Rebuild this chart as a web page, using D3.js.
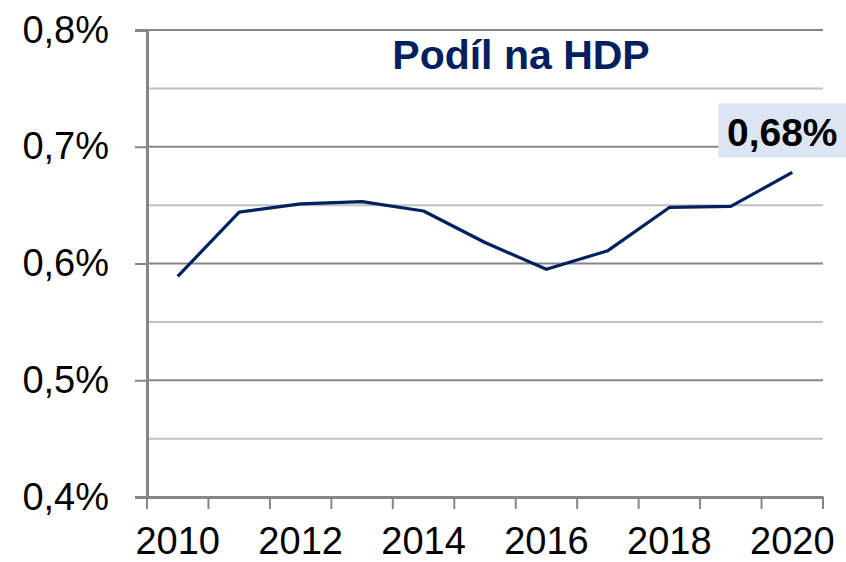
<!DOCTYPE html>
<html>
<head>
<meta charset="utf-8">
<script src="https://cdn.jsdelivr.net/npm/d3@7"></script>
<style>
  body { margin: 0; background: #fff; }
  svg { display: block; font-family: "Liberation Sans", Arial, sans-serif; }
</style>
</head>
<body>
<div class="chart"></div>
<script>
// data
const years = [2010, 2011, 2012, 2013, 2014, 2015, 2016, 2017, 2018, 2019, 2020]
const shares = [0.589, 0.644, 0.651, 0.653, 0.645, 0.618, 0.595, 0.611, 0.648, 0.649, 0.678]
const majorTicks = [0.4, 0.5, 0.6, 0.7, 0.8]
const minorTicks = [0.45, 0.55, 0.65, 0.75]
const labelYears = [2010, 2012, 2014, 2016, 2018, 2020]
const title = 'Podíl na HDP'

const width = 846
const height = 562
const plotLeft = 147, plotRight = 823, plotTop = 30, plotBottom = 497

const cz = d3.formatLocale({ decimal: ',', thousands: ' ', grouping: [3], currency: ['', ' Kč'] })
const fmtAxis = v => cz.format('.1f')(v) + '%'
const fmtLabel = v => cz.format('.2f')(v) + '%'

const svg = d3.select('.chart')
    .append('svg')
    .attr('width', width)
    .attr('height', height)

const x = d3.scaleBand().domain(years).range([plotLeft, plotRight]).padding(0)
const y = d3.scaleLinear().domain([0.4, 0.8]).range([plotBottom, plotTop])

// minor gridlines
svg.append('g')
    .selectAll('line')
    .data(minorTicks)
    .enter()
    .append('line')
    .attr('x1', plotLeft).attr('x2', plotRight)
    .attr('y1', d => y(d)).attr('y2', d => y(d))
    .attr('stroke', '#c0c0c0')
    .attr('stroke-width', 2)

// major gridlines
svg.append('g')
    .selectAll('line')
    .data(majorTicks.filter(d => d > 0.4))
    .enter()
    .append('line')
    .attr('x1', plotLeft).attr('x2', plotRight)
    .attr('y1', d => y(d)).attr('y2', d => y(d))
    .attr('stroke', '#868686')
    .attr('stroke-width', 2)

// y axis
const yAxis = d3.axisLeft(y)
    .tickValues(majorTicks)
    .tickSize(12)
    .tickPadding(26)
    .tickFormat(fmtAxis)
const gy = svg.append('g')
    .attr('transform', `translate(${plotLeft}, 0)`)
    .call(yAxis)
gy.select('.domain').attr('stroke', '#868686').attr('stroke-width', 3)
gy.selectAll('.tick line').attr('stroke', '#868686').attr('stroke-width', 2)
gy.selectAll('text')
    .attr('fill', '#000')
    .style('font-size', '38px')
    .style('font-family', '"Liberation Sans", Arial, sans-serif')

// x axis: labels at every other category, ticks between categories
const xAxis = d3.axisBottom(x)
    .tickValues(labelYears)
    .tickSize(0)
    .tickPadding(30)
const gx = svg.append('g')
    .attr('transform', `translate(0, ${plotBottom})`)
    .call(xAxis)
gx.select('.domain').attr('stroke', '#868686').attr('stroke-width', 3)
gx.selectAll('text')
    .attr('fill', '#000')
    .style('font-size', '38px')
    .style('font-family', '"Liberation Sans", Arial, sans-serif')

const edges = years.map(d => x(d)).concat([x(years[years.length - 1]) + x.bandwidth()])
gx.append('g')
    .selectAll('line')
    .data(edges)
    .enter()
    .append('line')
    .attr('x1', d => d).attr('x2', d => d)
    .attr('y1', 0).attr('y2', 12)
    .attr('stroke', '#868686')
    .attr('stroke-width', 2)

// line
const line = d3.line()
    .x((d, i) => x(years[i]) + x.bandwidth() / 2)
    .y(d => y(d))

svg.append('path')
    .datum(shares)
    .attr('d', line)
    .attr('fill', 'none')
    .attr('stroke', '#002060')
    .attr('stroke-width', 3.2)
    .attr('stroke-linejoin', 'round')

// title
svg.append('text')
    .attr('x', 521)
    .attr('y', 69)
    .attr('text-anchor', 'middle')
    .attr('fill', '#002060')
    .style('font-size', '41px')
    .style('font-weight', 'bold')
    .text(title)

// label on the last point
const lastIdx = shares.length - 1
const lx = x(years[lastIdx]) + x.bandwidth() / 2
const ly = y(shares[lastIdx])
svg.append('rect')
    .attr('x', lx - 74)
    .attr('y', ly - 69)
    .attr('width', 140)
    .attr('height', 54)
    .attr('fill', '#dce6f2')
svg.append('text')
    .attr('x', lx - 10)
    .attr('y', ly - 26)
    .attr('text-anchor', 'middle')
    .attr('fill', '#000')
    .style('font-size', '39px')
    .style('font-weight', 'bold')
    .text(fmtLabel(shares[lastIdx]))
</script>
</body>
</html>
